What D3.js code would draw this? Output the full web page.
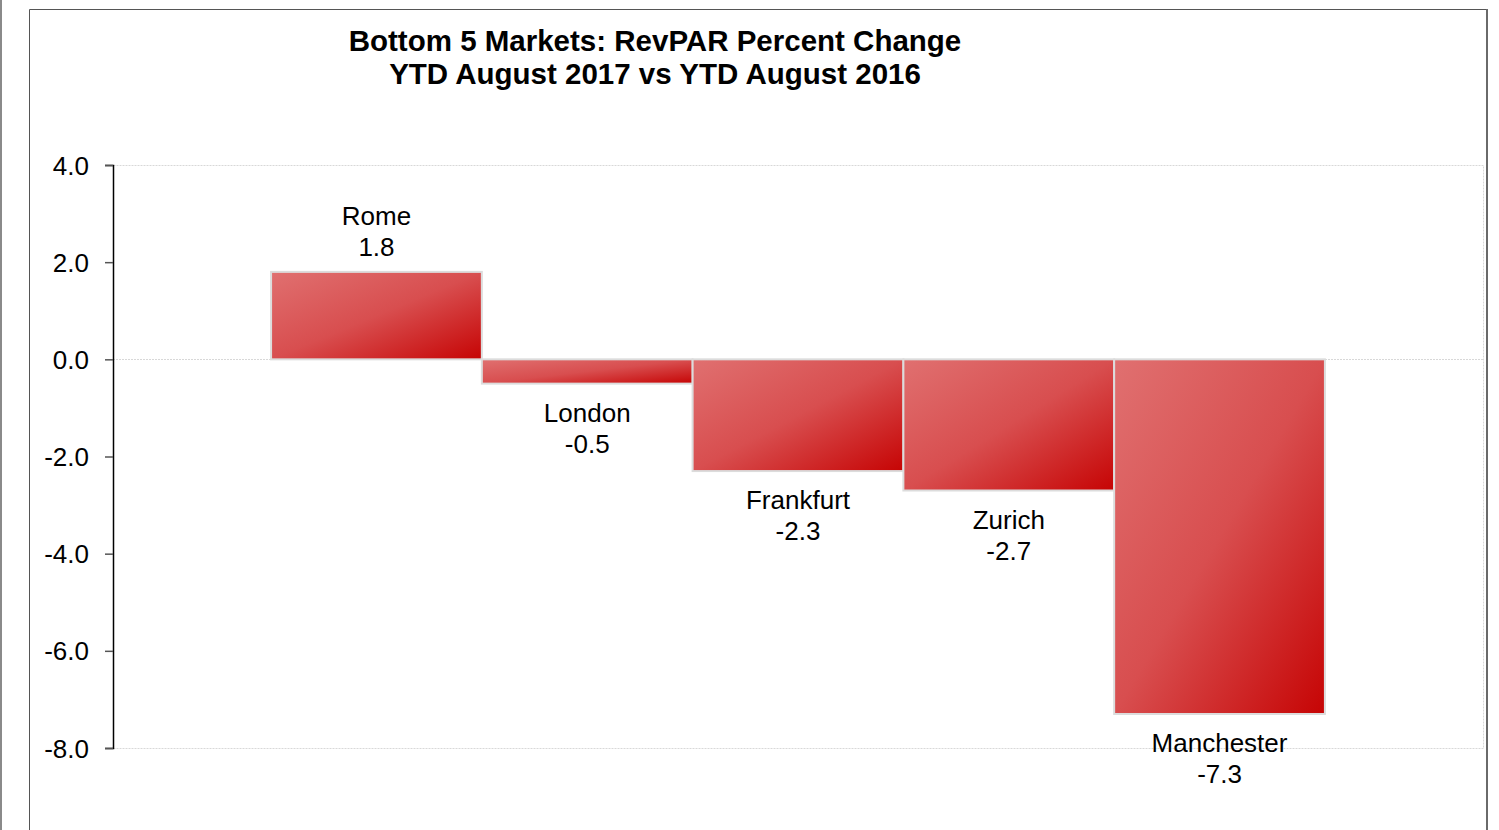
<!DOCTYPE html>
<html>
<head>
<meta charset="utf-8">
<script src="https://cdn.jsdelivr.net/npm/d3@7"></script>
<style>
	body{margin:0;background:#fff;}
	svg text{font-family:"Liberation Sans",Arial,sans-serif;fill:#000;}
</style>
</head>
<body>
<div id="chart"></div>
<script>
var markets=["Rome","London","Frankfurt","Zurich","Manchester"];
var revparChange=[1.8,-0.5,-2.3,-2.7,-7.3];
var yTicks=[4,2,0,-2,-4,-6,-8];
var titleLines=["Bottom 5 Markets: RevPAR Percent Change","YTD August 2017 vs YTD August 2016"];

var width=1499;
var height=830;

var plotleft=113;
var plotright=1483;
var plottop=165;
var plotbottom=748;

var svg=d3.select("#chart")
		.append("svg")
		.attr("width", width)
		.attr("height", height);

var defs=svg.append("defs");
var grad=defs.append("linearGradient")
	.attr("id","barfill")
	.attr("x1","0").attr("y1","0")
	.attr("x2","1").attr("y2","1");
grad.append("stop").attr("offset","0%").attr("stop-color","#e07070");
grad.append("stop").attr("offset","50%").attr("stop-color","#d84e4f");
grad.append("stop").attr("offset","100%").attr("stop-color","#c60404");

// page frame
svg.append("line")
	.attr("x1",1).attr("x2",1).attr("y1",0).attr("y2",height)
	.style("stroke","#8a8a8a").style("stroke-width",2);
svg.append("path")
	.attr("d","M29.5,"+height+"V9.5H1486.5V"+height)
	.style("fill","none").style("stroke","#555").style("stroke-width",1);
svg.append("line")
	.attr("x1",1487).attr("x2",1487).attr("y1",9).attr("y2",height)
	.style("stroke","#6a6a6a").style("stroke-width",2);

// title
svg.append("g").selectAll("text")
	.data(titleLines)
	.enter().append("text")
	.attr("x",655)
	.attr("y",function(d,i){return 51+i*33;})
	.attr("text-anchor","middle")
	.style("font-weight","bold")
	.style("font-size","29.5px")
	.text(function(d){return d;});

var x=d3.scaleBand()
	.domain(markets)
	.range([plotleft,plotright])
	.paddingInner(0)
	.paddingOuter(0.75);

var y=d3.scaleLinear()
	.domain([-8,4])
	.range([plotbottom,plottop]);

// plot area border (dotted)
svg.append("rect")
	.attr("x",plotleft+0.5).attr("y",plottop+0.5)
	.attr("width",plotright-plotleft).attr("height",plotbottom-plottop)
	.style("fill","none").style("stroke","#d8d8d8")
	.style("stroke-dasharray","2,1");

// zero line
svg.append("line")
	.attr("x1",plotleft).attr("x2",plotright)
	.attr("y1",Math.round(y(0))+0.5).attr("y2",Math.round(y(0))+0.5)
	.style("stroke","#d8d8d8").style("stroke-dasharray","2,1");

// bars
svg.append("g").attr("class","bars")
	.selectAll("rect")
	.data(revparChange)
	.enter().append("rect")
	.attr("x",function(d,i){return x(markets[i]);})
	.attr("y",function(d){return y(Math.max(0,d));})
	.attr("width",x.bandwidth())
	.attr("height",function(d){return Math.abs(y(d)-y(0));})
	.style("fill","url(#barfill)")
	.style("stroke","#dcdcdc")
	.style("stroke-width",2);

// y axis
var fmt=function(d){return d3.format(".1f")(d).replace("−","-");};
var yaxis=svg.append("g")
	.attr("class","y axis")
	.attr("transform","translate("+plotleft+",0)")
	.call(d3.axisLeft(y).tickValues(yTicks).tickSize(8).tickPadding(16).tickFormat(fmt));
yaxis.select(".domain").style("stroke","#000").style("stroke-width",1.5);
yaxis.selectAll(".tick line").style("stroke","#555").style("stroke-width",1.5);
yaxis.selectAll(".tick text")
	.style("font-size","26px")
	.style("font-family","\"Liberation Sans\",Arial,sans-serif")
	.attr("dy","0.35em");

// labels
var labels=svg.append("g").attr("class","labeltext")
	.selectAll("g")
	.data(revparChange)
	.enter().append("g")
	.attr("transform",function(d,i){
		var cx=x(markets[i])+x.bandwidth()/2;
		var top=d>=0?y(d)-56:y(d)+29;
		return "translate("+cx+","+top+")";
	});
labels.append("text")
	.attr("text-anchor","middle")
	.attr("y",0)
	.attr("dy","0.35em")
	.style("font-size","26px")
	.text(function(d,i){return markets[i];});
labels.append("text")
	.attr("text-anchor","middle")
	.attr("y",31)
	.attr("dy","0.35em")
	.style("font-size","26px")
	.text(function(d){return fmt(d);});
</script>
</body>
</html>
